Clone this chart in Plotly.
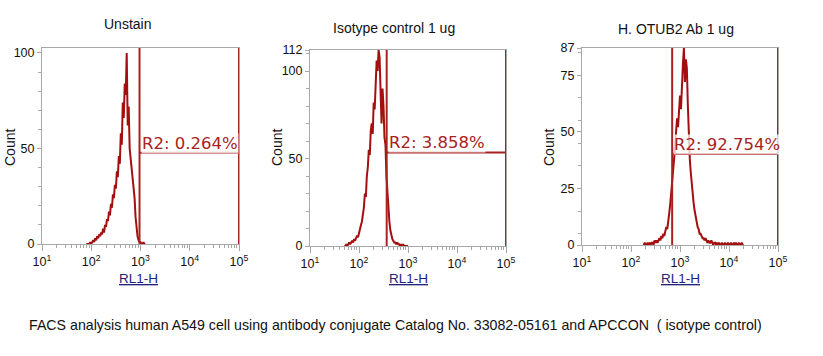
import numpy as np
import plotly.graph_objects as go

W, H = 823, 356

titles = ["Unstain", "Isotype control 1 ug", "H. OTUB2 Ab 1 ug"]
region_labels = ["R2: 0.264%", "R2: 3.858%", "R2: 92.754%"]
caption = "FACS analysis human A549 cell using antibody conjugate Catalog No. 33082-05161 and APCCON  ( isotype control)"

# histogram channel counts (log10 of RL1-H start, step 0.02 decade)
h1_start = 1.90
h1_counts = [0, 0, 0, 0, 1, 0, 1, 2, 1, 3, 2, 4, 3, 5, 4, 6, 5, 8, 6, 10, 9, 13, 12, 17, 15,
             21, 19, 26, 24, 31, 29, 38, 35, 46, 42, 58, 52, 74, 66, 84, 78, 100, 62, 72, 50,
             45, 40, 33, 30, 24, 14, 8, 4, 2, 1, 1, 0, 0, 1, 0, 0]
h2_start = 1.70
h2_counts = [0, 0, 1, 0, 1, 2, 1, 2, 3, 2, 4, 3, 5, 6, 5, 8, 9, 12, 14, 18, 22, 30, 28, 40, 45,
             55, 52, 66, 70, 64, 82, 78, 96, 106, 100, 112, 108, 88, 70, 90, 80, 62, 58, 40, 30,
             19, 14, 9, 5, 4, 3, 2, 2, 1, 2, 1, 1, 0, 1, 0, 1, 0, 0, 0, 0, 0]
h3_start = 2.26
h3_counts = [0, 1, 0, 0, 1, 0, 1, 0, 1, 1, 0, 2, 1, 2, 1, 2, 3, 2, 4, 3, 5, 4, 6, 8, 7, 12, 14,
             18, 22, 28, 33, 38, 45, 50, 56, 52, 62, 66, 60, 74, 80, 87, 72, 82, 78, 62, 46, 38,
             32, 26, 22, 18, 15, 12, 10, 8, 7, 5, 5, 4, 3, 3, 2, 3, 2, 1, 2, 1, 1, 2, 1, 0, 1,
             1, 0, 1, 0, 1, 0, 0, 1, 0, 0, 1, 0, 0, 1, 0, 0, 1, 0, 0, 1, 0, 1, 0, 0, 1, 0, 0,
             1, 0, 0]
hist_starts = [h1_start, h2_start, h3_start]
hist_counts = [h1_counts, h2_counts, h3_counts]
channel_step = 0.02

# gate R2: lower / upper bound (RL1-H) and marker level (Count)
gate_lo = [10 ** 2.98, 10 ** 2.565, 10 ** 2.84]
gate_hi = [10 ** 5.0, 10 ** 5.0, 10 ** 5.0]
gate_level = [47.8, 53.5, 40.2]

y_max = [102.6, 112, 87]
y_ticks = [[0, 50, 100], [0, 50, 100, 112], [0, 25, 50, 75, 87]]
y_minor0 = [0, 0, 5]

x_tickvals = [10, 100, 1000, 10000, 100000]
x_ticktext = ["10<sup>1</sup>", "10<sup>2</sup>", "10<sup>3</sup>", "10<sup>4</sup>", "10<sup>5</sup>"]
x_minor = [k * 10 ** d for d in range(1, 5) for k in range(2, 10)]

# layout geometry (pixels)
px_left = [42, 310, 582]
px_right = [239, 506, 778]
py_top = [48, 50, 48]
py_bot = [244, 246, 245]
title_pos = [(128, 24), (394, 28), (676, 29)]
count_x = [10, 277, 549]
xlabel_x = [138, 408, 680]

RED = "#a30f0f"
GATE = "#a82222"
GREY = "#a8a8a8"
FONT = "Liberation Sans, Arial, sans-serif"

fig = go.Figure()
ann = []
for i in range(3):
    ax = "" if i == 0 else str(i + 1)
    xs = 10 ** (hist_starts[i] + channel_step * np.arange(len(hist_counts[i])))
    fig.add_trace(go.Scatter(x=xs, y=hist_counts[i], mode="lines",
                             line=dict(color=RED, width=2), xaxis="x" + ax, yaxis="y" + ax,
                             showlegend=False, hoverinfo="skip"))
    lo, hi, lv, top = gate_lo[i], gate_hi[i], gate_level[i], y_max[i]
    fig.add_trace(go.Scatter(x=[lo, lo, None, lo, hi, None, hi, hi],
                             y=[0, top, None, lv, lv, None, 0, top], mode="lines",
                             line=dict(color=GATE, width=2), xaxis="x" + ax, yaxis="y" + ax,
                             showlegend=False, hoverinfo="skip", cliponaxis=False))
    x0 = px_left[i] / W
    x1 = px_right[i] / W
    y0 = 1 - py_bot[i] / H
    y1 = 1 - py_top[i] / H
    fig.update_layout(**{
        "xaxis" + ax: dict(type="log", range=[1, 5], domain=[x0, x1], anchor="y" + ax,
                           automargin=False,
                           tickmode="array", tickvals=x_tickvals, ticktext=x_ticktext,
                           ticks="outside", ticklen=6, tickcolor=GREY, showgrid=False,
                           showline=True, linecolor=GREY, linewidth=1, mirror=True,
                           zeroline=False, tickfont=dict(family=FONT, size=12.5, color="#111"),
                           minor=dict(tickmode="array", tickvals=x_minor, ticks="outside",
                                      ticklen=3, tickcolor=GREY, showgrid=False)),
        "yaxis" + ax: dict(range=[0, y_max[i]], domain=[y0, y1], anchor="x" + ax,
                           automargin=False,
                           tickmode="array", tickvals=y_ticks[i], ticks="outside", ticklen=4,
                           tickcolor=GREY, showgrid=False, showline=True, linecolor=GREY,
                           linewidth=1, mirror=True, zeroline=False,
                           tickfont=dict(family=FONT, size=12.5, color="#111"),
                           minor=dict(tick0=y_minor0[i], dtick=10, ticks="outside", ticklen=3,
                                      tickcolor=GREY, showgrid=False)),
    })
    ann.append(dict(text=region_labels[i], x=np.log10(lo), y=lv, xref="x" + ax, yref="y" + ax,
                    xanchor="left", yanchor="bottom", showarrow=False, xshift=1, yshift=-1,
                    font=dict(family="DejaVu Sans, Verdana, sans-serif", size=16.5, color=GATE),
                    bgcolor="rgba(255,255,255,0.75)", borderpad=0))
    tx, ty = title_pos[i]
    ann.append(dict(text=titles[i], x=tx / W, y=1 - ty / H, xref="paper", yref="paper",
                    xanchor="center", yanchor="middle", showarrow=False,
                    font=dict(family=FONT, size=14, color="#111")))
    ann.append(dict(text="Count", x=count_x[i] / W, y=1 - 148 / H, xref="paper", yref="paper",
                    xanchor="center", yanchor="middle", showarrow=False, textangle=-90,
                    font=dict(family=FONT, size=14, color="#111")))
    ann.append(dict(text="<u>RL1-H</u>", x=xlabel_x[i] / W, y=1 - 278 / H, xref="paper",
                    yref="paper", xanchor="center", yanchor="middle", showarrow=False,
                    font=dict(family=FONT, size=13.5, color="#22237a")))

ann.append(dict(text=caption, x=27 / W, y=1 - 325 / H, xref="paper", yref="paper",
                xanchor="left", yanchor="middle", showarrow=False,
                font=dict(family=FONT, size=14.2, color="#111")))

fig.update_layout(width=W, height=H, margin=dict(l=0, r=0, t=0, b=0),
                  paper_bgcolor="white", plot_bgcolor="white", annotations=ann)
fig.write_html("out.html", config={"displayModeBar": False},
               post_script="document.body.style.margin='0px';")
